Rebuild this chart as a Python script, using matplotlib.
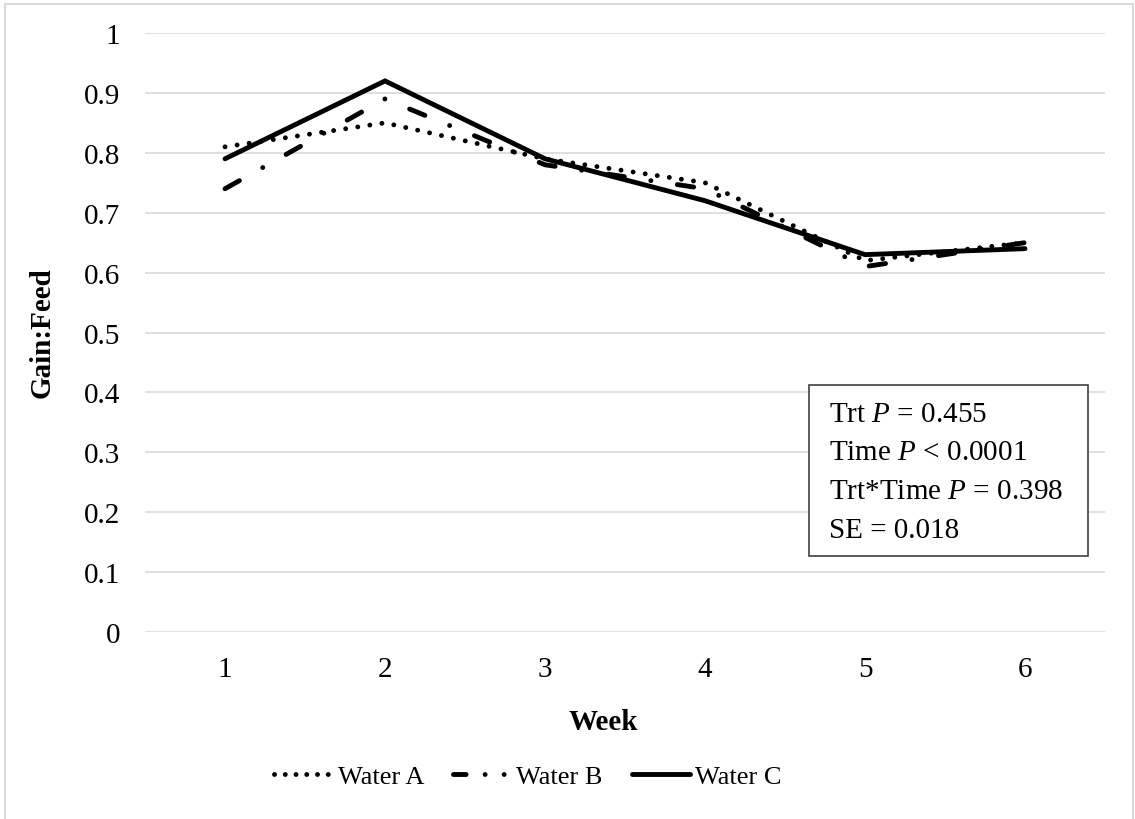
import matplotlib
matplotlib.use("Agg")
import matplotlib.pyplot as plt
from matplotlib.lines import Line2D
from matplotlib.patches import Rectangle

# DATA
weeks = [1, 2, 3, 4, 5, 6]
water_a = [0.81, 0.85, 0.79, 0.75, 0.62, 0.65]
water_b = [0.74, 0.89, 0.78, 0.74, 0.61, 0.65]
water_c = [0.79, 0.92, 0.79, 0.72, 0.63, 0.64]
labels = ["Water A", "Water B", "Water C"]
stats = ["Trt $P$ = 0.455", "Time $P$ < 0.0001",
         "Trt*Time $P$ = 0.398", "SE = 0.018"]

# STYLE
plt.rcParams["font.family"] = ["Liberation Serif", "DejaVu Serif"]
plt.rcParams["mathtext.fontset"] = "custom"
plt.rcParams["mathtext.rm"] = "Liberation Serif"
plt.rcParams["mathtext.it"] = "Liberation Serif:italic"

W, H = 1135, 820
fig = plt.figure(figsize=(W / 100, H / 100), dpi=100)
ax = fig.add_axes([145 / W, 1 - 633 / H, 960 / W, 599 / H])

lw = 3.5
ax.plot(weeks, water_a, color="black", lw=lw, dashes=(0.01, 2.5),
        dash_capstyle="round", solid_capstyle="round")
ax.plot(weeks, water_b, color="black", lw=lw, dashes=(3.4, 5.5, 0.01, 5.5),
        dash_capstyle="round")
ax.plot(weeks, water_c, color="black", lw=lw, solid_capstyle="round",
        solid_joinstyle="miter")

ax.set_xlim(0.5, 6.5)
ax.set_ylim(0, 1)
ax.set_xticks(weeks)
ax.set_yticks([i / 10 for i in range(11)])
ax.set_yticklabels(["0"] + [f"{i / 10:.1f}" for i in range(1, 10)] + ["1"])
ax.tick_params(axis="both", length=0, labelsize=21)
ax.tick_params(axis="y", pad=18)
ax.tick_params(axis="x", pad=17)
ax.grid(axis="y", color="#d9d9d9", lw=1.2)
ax.set_axisbelow(True)
for s in ax.spines.values():
    s.set_visible(False)

fig.text(603 / W, 1 - 723 / H, "Week", ha="center", va="center",
         fontsize=21, fontweight="bold")
fig.text(42 / W, 1 - 333 / H, "Gain:Feed", ha="center", va="center",
         fontsize=21, fontweight="bold", rotation=90)

# stats box
fig.add_artist(Rectangle((809 / W, 1 - 557 / H), 279 / W, 171 / H,
                         transform=fig.transFigure, fc="white",
                         ec="#404040", lw=1.2))
for i, line in enumerate(stats):
    fig.text(829 / W, 1 - (415 + i * 38.5) / H, line, ha="left",
             va="center", fontsize=21)

# legend
handles = [
    Line2D([], [], color="black", lw=lw, dashes=(0.01, 2.2),
           dash_capstyle="round"),
    Line2D([], [], color="black", lw=lw, dashes=(2.6, 3.9, 0.01, 3.9, 0.01, 3.9),
           dash_capstyle="round"),
    Line2D([], [], color="black", lw=lw, solid_capstyle="round"),
]
fig.legend(handles, labels, loc="center", bbox_to_anchor=(528 / W, 1 - 777 / H),
           ncol=3, frameon=False, fontsize=19, handlelength=2.2,
           handletextpad=0.2, columnspacing=1.1)

# chart border
fig.add_artist(Rectangle((5 / W, -0.01), 1128 / W, 815 / H + 0.01,
                         transform=fig.transFigure, fill=False,
                         ec="#d9d9d9", lw=1.5))

fig.savefig("out.png", dpi=100)
